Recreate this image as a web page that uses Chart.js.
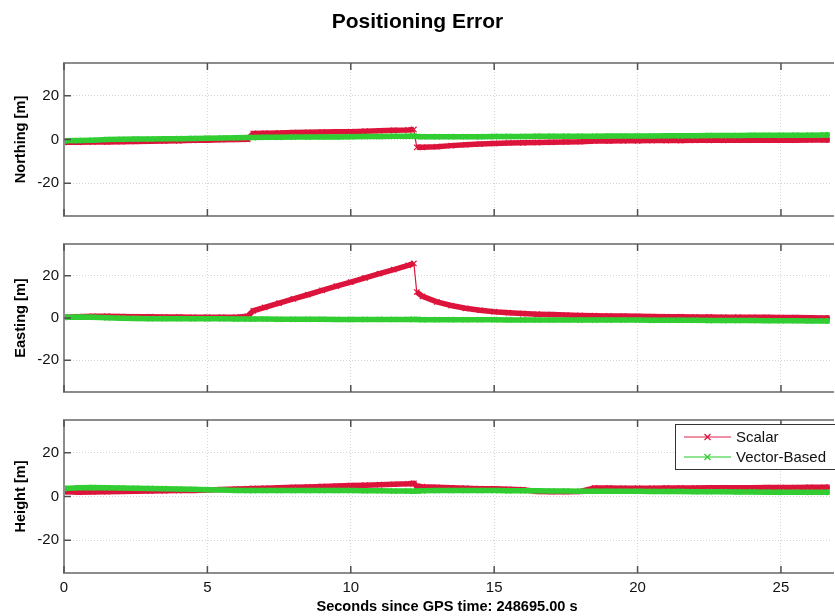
<!DOCTYPE html>
<html>
<head>
<meta charset="utf-8">
<title>Positioning Error</title>
<script src="https://cdn.jsdelivr.net/npm/chart.js@4/dist/chart.umd.min.js"></script>
<style>
  html, body { margin: 0; padding: 0; background: #ffffff; }
  #wrap { position: relative; width: 835px; height: 616px; overflow: hidden; }
  #wrap canvas { position: absolute; left: 0; }
</style>
</head>
<body>
<div id="wrap">
  <canvas id="north" width="835" height="230" style="top:0px"></canvas>
  <canvas id="east" width="835" height="176" style="top:230px"></canvas>
  <canvas id="height" width="835" height="210" style="top:406px"></canvas>
</div>
<script>
// Sample times [s] shared by all series
const seconds = [0,0.5,1,1.5,2,2.5,3,3.5,4,4.5,5,5.5,6,6.4,6.6,7,7.5,8,8.5,9,9.5,10,10.5,11,11.5,12,12.2,12.3,12.5,13,13.5,14,14.5,15,15.5,16,16.5,17,17.5,18,18.5,19,19.5,20,20.5,21,21.5,22,22.5,23,23.5,24,24.5,25,25.5,26,26.5,26.7];

// Northing error [m]
const northScalar = [-1.3,-1.3,-1.2,-1.1,-1.0,-0.9,-0.8,-0.7,-0.6,-0.4,-0.3,-0.1,0.0,0.1,2.8,2.9,3.0,3.2,3.3,3.4,3.5,3.6,3.8,4.0,4.2,4.4,4.6,-3.6,-3.6,-3.3,-2.8,-2.4,-2.1,-1.8,-1.6,-1.5,-1.4,-1.3,-1.1,-1.0,-0.7,-0.7,-0.6,-0.6,-0.5,-0.5,-0.5,-0.4,-0.4,-0.4,-0.3,-0.3,-0.3,-0.3,-0.3,-0.2,-0.2,-0.2];
const northVector = [-0.6,-0.5,-0.3,0.0,0.1,0.2,0.2,0.3,0.4,0.5,0.6,0.7,0.8,0.9,0.9,1.0,1.0,1.1,1.1,1.2,1.2,1.3,1.4,1.4,1.5,1.5,1.6,1.4,1.3,1.3,1.3,1.3,1.3,1.4,1.4,1.4,1.5,1.5,1.5,1.5,1.5,1.6,1.6,1.6,1.6,1.7,1.7,1.7,1.8,1.8,1.8,1.9,1.9,1.9,2.0,2.0,2.1,2.1];

// Easting error [m]
const eastScalar = [0.3,0.6,0.8,0.8,0.7,0.6,0.6,0.5,0.5,0.4,0.4,0.4,0.4,0.8,3.4,5.0,7.0,9.0,11.0,13.1,15.1,17.0,19.0,21.0,22.9,24.9,25.8,12.3,10.2,7.6,5.9,4.6,3.7,3.0,2.5,2.1,1.8,1.6,1.4,1.2,1.1,1.0,0.9,0.8,0.7,0.6,0.6,0.5,0.5,0.4,0.4,0.3,0.3,0.2,0.2,0.1,0.0,0.0];
const eastVector = [0.4,0.5,0.4,0.1,-0.1,-0.2,-0.3,-0.3,-0.3,-0.4,-0.4,-0.4,-0.5,-0.5,-0.5,-0.5,-0.6,-0.6,-0.6,-0.6,-0.7,-0.7,-0.7,-0.7,-0.7,-0.7,-0.7,-0.7,-0.8,-0.8,-0.8,-0.8,-0.8,-0.8,-0.9,-0.9,-0.9,-0.9,-0.9,-1.0,-1.0,-1.0,-1.0,-1.0,-1.1,-1.1,-1.1,-1.1,-1.2,-1.2,-1.2,-1.2,-1.3,-1.3,-1.3,-1.4,-1.4,-1.4];

// Height error [m]
const heightScalar = [2.2,2.0,2.1,2.2,2.3,2.4,2.5,2.6,2.7,2.8,3.0,3.2,3.4,3.6,3.7,3.8,4.0,4.2,4.4,4.6,4.8,5.0,5.2,5.4,5.6,5.8,6.0,4.7,4.5,4.2,4.0,3.8,3.6,3.5,3.3,3.1,2.3,2.2,2.2,2.3,3.9,3.9,3.8,3.8,3.8,3.9,3.9,3.9,4.0,4.0,4.0,4.0,4.1,4.1,4.1,4.2,4.2,4.2];
const heightVector = [3.7,4.0,4.1,4.0,3.9,3.8,3.7,3.6,3.4,3.3,3.1,3.0,2.8,2.7,2.7,2.7,2.7,2.7,2.7,2.7,2.7,2.7,2.6,2.6,2.5,2.5,2.4,2.5,2.6,2.7,2.7,2.7,2.7,2.7,2.6,2.6,2.6,2.5,2.5,2.4,2.4,2.4,2.4,2.4,2.3,2.3,2.3,2.2,2.2,2.2,2.1,2.1,2.0,2.0,2.0,1.9,1.9,1.9];

// Axis ticks and limits
const xTicks = [0, 5, 10, 15, 20, 25];
const yTicks = [-20, 0, 20];
const xLimits = [0, 26.71];
const yLimits = [-35, 35];

const seriesNames = ['Scalar', 'Vector-Based'];
const seriesColors = ['#dc143c', '#32cd32'];
const legendLineColors = ['rgba(232,90,120,0.9)', 'rgba(90,215,90,0.9)'];

const FONT = "'Liberation Sans', Arial, Helvetica, sans-serif";

function points(values) {
  return seconds.map((t, i) => ({ x: t, y: values[i] }));
}

// Thin connector where the error jumps, thick band elsewhere
function bandWidth(ctx) {
  return Math.abs(ctx.p1.parsed.y - ctx.p0.parsed.y) > 5 ? 1.2 : 5.5;
}

function dataset(idx, values) {
  return {
    label: seriesNames[idx],
    data: points(values),
    borderColor: seriesColors[idx],
    backgroundColor: seriesColors[idx],
    borderWidth: 5.5,
    pointStyle: 'crossRot',
    pointRadius: 3.8,
    pointBorderWidth: 1.2,
    pointBorderColor: seriesColors[idx],
    pointHoverRadius: 3.8,
    tension: 0,
    fill: false,
    order: idx === 0 ? 2 : 1,
    segment: { borderWidth: bandWidth }
  };
}

// Box around the axes plus MATLAB-style inward tick marks
const axesFrame = {
  id: 'axesFrame',
  afterDatasetsDraw(chart) {
    const { ctx, chartArea: { left, top, right, bottom }, scales: { x, y } } = chart;
    ctx.save();
    ctx.strokeStyle = '#8c8c8c';
    ctx.lineWidth = 2;
    ctx.beginPath();
    ctx.moveTo(right + 4, top);
    ctx.lineTo(left, top);
    ctx.lineTo(left, bottom);
    ctx.lineTo(right + 4, bottom);
    ctx.stroke();
    ctx.strokeStyle = '#505050';
    ctx.lineWidth = 1.5;
    ctx.beginPath();
    x.ticks.forEach(t => {
      const px = x.getPixelForValue(t.value);
      ctx.moveTo(px, top); ctx.lineTo(px, top + 7);
      ctx.moveTo(px, bottom); ctx.lineTo(px, bottom - 7);
    });
    y.ticks.forEach(t => {
      const py = y.getPixelForValue(t.value);
      ctx.moveTo(left, py); ctx.lineTo(left + 7, py);
    });
    ctx.stroke();
    ctx.restore();
  }
};

// Legend box drawn inside the plot area of the bottom panel
const insideLegend = {
  id: 'insideLegend',
  afterDraw(chart, args, opts) {
    if (!opts.show) return;
    const { ctx } = chart;
    const bx = 675, by = 18, bh = 45;
    ctx.save();
    ctx.fillStyle = '#ffffff';
    ctx.fillRect(bx, by, 200, bh);
    ctx.strokeStyle = '#333333';
    ctx.lineWidth = 1;
    ctx.strokeRect(bx + 0.5, by + 0.5, 200, bh);
    chart.data.datasets.forEach((ds, i) => {
      const ly = by + 13 + i * 20;
      ctx.strokeStyle = legendLineColors[i];
      ctx.lineWidth = 1.5;
      ctx.beginPath();
      ctx.moveTo(684, ly); ctx.lineTo(731, ly);
      ctx.stroke();
      ctx.strokeStyle = ds.borderColor;
      ctx.lineWidth = 1.2;
      const cx = 707.5, r = 3;
      ctx.beginPath();
      ctx.moveTo(cx - r, ly - r); ctx.lineTo(cx + r, ly + r);
      ctx.moveTo(cx - r, ly + r); ctx.lineTo(cx + r, ly - r);
      ctx.stroke();
      ctx.fillStyle = '#111111';
      ctx.font = '15px ' + FONT;
      ctx.textAlign = 'left';
      ctx.textBaseline = 'middle';
      ctx.fillText(ds.label, 736, ly + 1);
    });
    ctx.restore();
  }
};

function buildPanel(id, yTitle, scalar, vector, cfg) {
  const tickFont = { family: FONT, size: 15 };
  return new Chart(document.getElementById(id), {
    type: 'line',
    data: { datasets: [dataset(0, scalar), dataset(1, vector)] },
    options: {
      responsive: false,
      animation: false,
      events: [],
      layout: { padding: cfg.padding },
      plugins: {
        legend: { display: false },
        tooltip: { enabled: false },
        title: cfg.title ? {
          display: true,
          text: cfg.title,
          color: '#000000',
          font: { family: FONT, size: 21, weight: 'bold' },
          padding: { top: 9.4, bottom: 28.4 }
        } : { display: false },
        insideLegend: { show: !!cfg.legend }
      },
      scales: {
        x: {
          type: 'linear',
          min: xLimits[0],
          max: xLimits[1],
          afterBuildTicks: s => { s.ticks = xTicks.map(v => ({ value: v })); },
          afterFit: s => { s.height = cfg.xHeight; },
          grid: { color: '#d4d4d4', lineWidth: 1, drawTicks: false },
          border: { display: false, dash: [1, 2] },
          ticks: {
            display: !!cfg.xLabels,
            color: '#111111',
            font: tickFont,
            padding: 6,
            maxRotation: 0,
            autoSkip: false
          },
          title: {
            display: !!cfg.xLabels,
            text: 'Seconds since GPS time: 248695.00 s',
            color: '#000000',
            font: { family: FONT, size: 14.6, weight: 'bold' },
            padding: { top: 0, bottom: 0 }
          }
        },
        y: {
          min: yLimits[0],
          max: yLimits[1],
          afterBuildTicks: s => { s.ticks = yTicks.map(v => ({ value: v })); },
          afterFit: s => { s.width = 64; },
          grid: { color: '#d4d4d4', lineWidth: 1, drawTicks: false },
          border: { display: false, dash: [1, 2] },
          ticks: { color: '#111111', font: tickFont, padding: 5 },
          title: {
            display: true,
            text: yTitle,
            color: '#000000',
            font: { family: FONT, size: 14.6, weight: 'bold' },
            padding: { top: 12.2, bottom: 0 }
          }
        }
      }
    },
    plugins: [axesFrame, insideLegend]
  });
}

buildPanel('north', 'Northing [m]', northScalar, northVector,
  { title: 'Positioning Error', padding: { top: 0, bottom: 11, left: 0, right: 0 }, xHeight: 0 });
buildPanel('east', 'Easting [m]', eastScalar, eastVector,
  { padding: { top: 9, bottom: 10, left: 0, right: 0 }, xHeight: 0 });
buildPanel('height', 'Height [m]', heightScalar, heightVector,
  { padding: { top: 10, bottom: 0, left: 0, right: 0 }, xHeight: 43, xLabels: true, legend: true });
</script>
</body>
</html>
